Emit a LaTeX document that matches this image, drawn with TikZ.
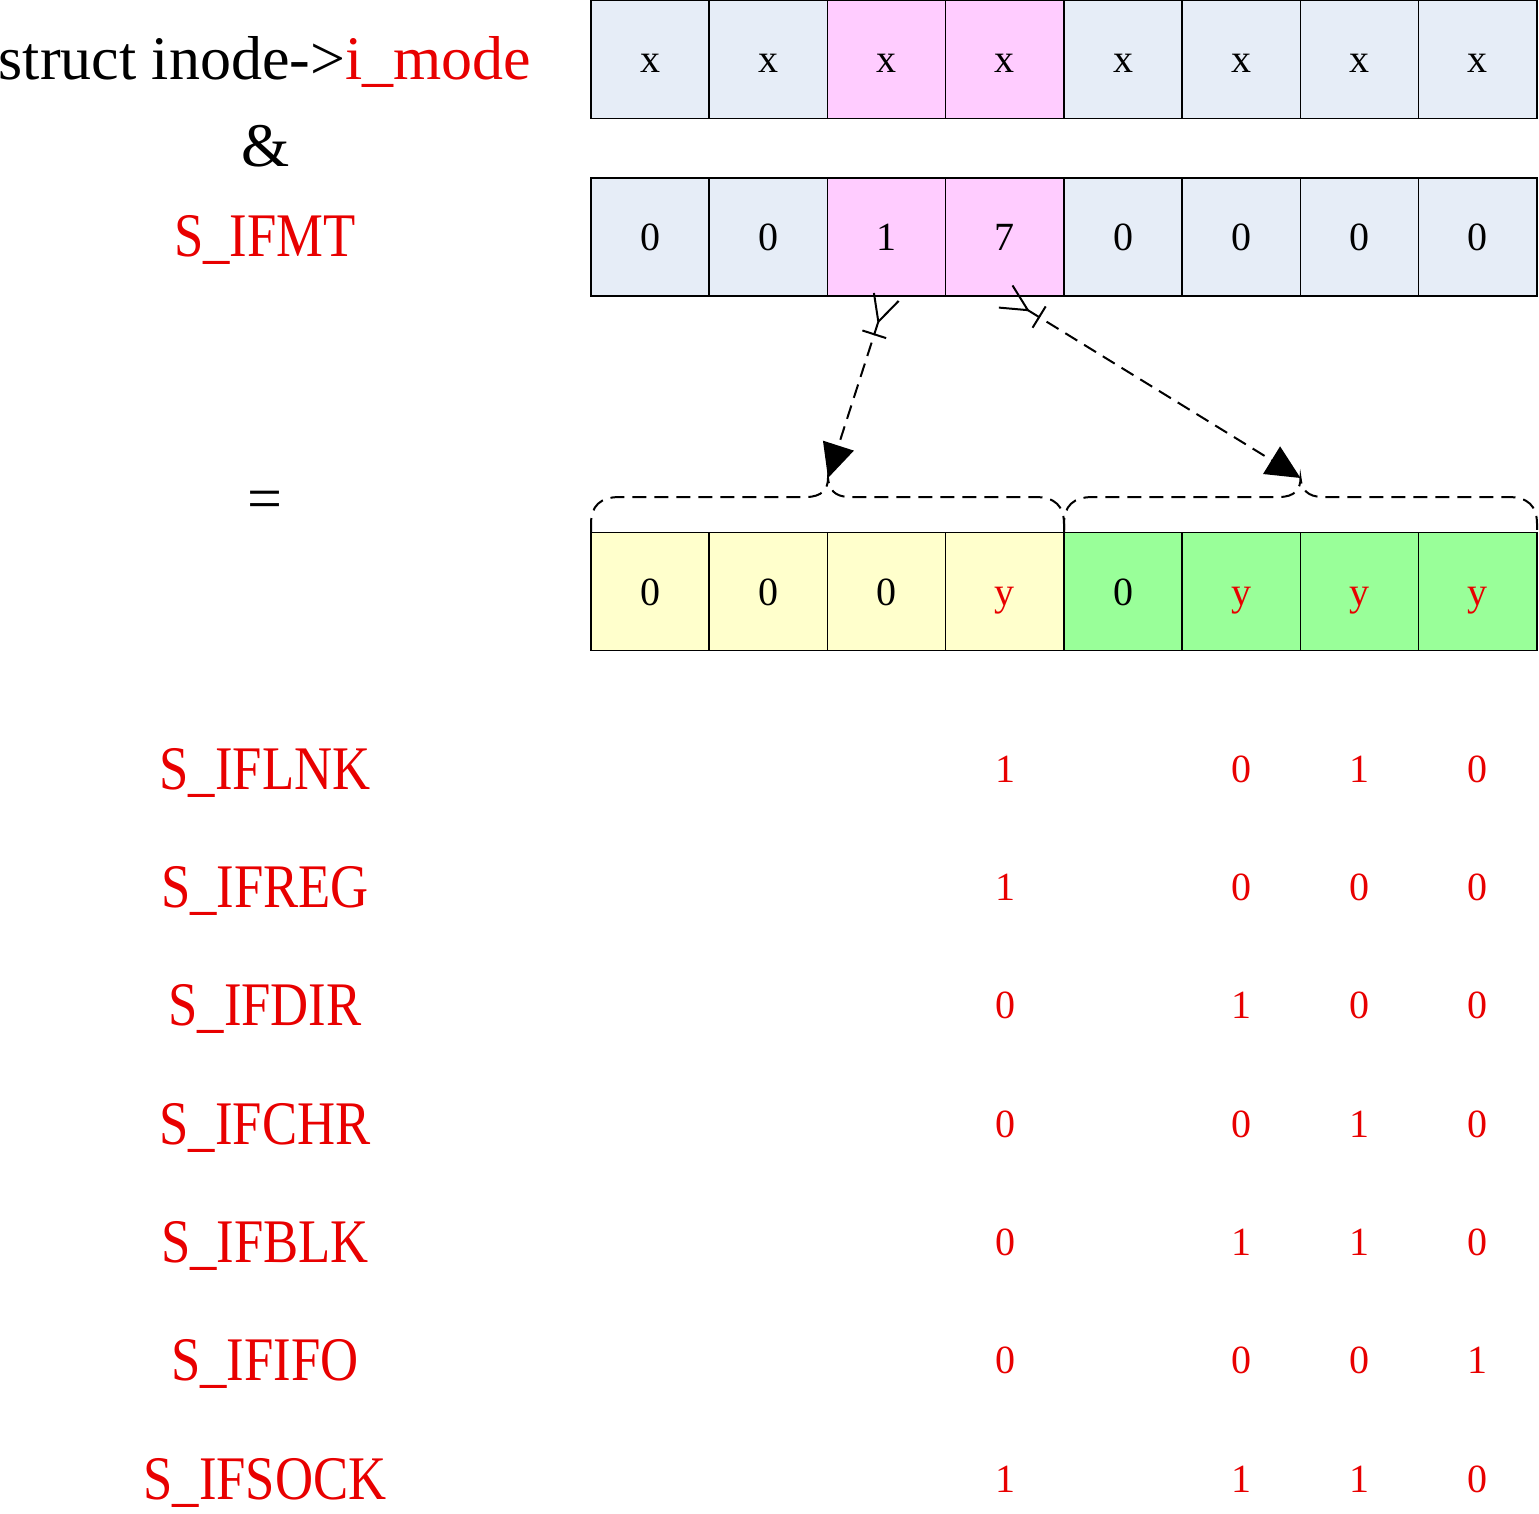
\documentclass[tikz,border=0pt]{standalone}
\usepackage{fontspec}
\setmainfont{Liberation Serif}
\newfontfamily\capsfont[FakeStretch=0.85]{Liberation Serif}
\usetikzlibrary{positioning,arrows.meta}

\begin{document}
\begin{tikzpicture}[x=1pt,y=-1pt,node distance=0pt]
            \definecolor{cellblue}{RGB}{230,237,247}
            \definecolor{cellpink}{RGB}{255,204,255}
            \definecolor{cellyellow}{RGB}{255,255,204}
            \definecolor{cellgreen}{RGB}{153,255,153}
            \definecolor{myred}{RGB}{232,0,0}
            \tikzstyle{cell} = [rectangle,
            minimum width=118.25pt,
            minimum height=118pt,
            inner sep=0pt, outer sep=0pt,
            text height=27pt, text depth=0pt,
            draw=black, line width=1.5pt,
            font=\fontsize{40}{48}\selectfont]
            \tikzstyle{rowlabel} = [inner sep=0pt, anchor=base, font=\fontsize{62}{74}\selectfont]
            \tikzstyle{typelabel} = [rowlabel, text=myred, font=\fontsize{62}{74}\capsfont]
            \tikzstyle{bit} = [inner sep=0pt, anchor=base, text=myred, font=\fontsize{40}{48}\selectfont]
            \tikzstyle{dashline} = [line width=2pt, dash pattern=on 14pt off 8pt]
            \tikzstyle{arrow} = [dashline,
            arrows={{Straight Barb[reversed,length=26pt,width=26pt]Bar[reversed,width=25pt,sep=10pt]}-Triangle[length=34pt,width=32pt]}]
            \useasboundingbox (0,0) rectangle (1539,1514);

            % left column
            \node (imode)[rowlabel] at (265,80) {struct inode->\textcolor{myred}{i\_mode}};
            \node (and)[rowlabel] at (266,167) {\&};
            \node (ifmt)[typelabel] at (265,257) {S\_IFMT};
            \node (equal)[rowlabel, anchor=center] at (265,505) {=};

            % i_mode
            \node (mode1)[cell, fill=cellblue] at (650.1,59.5) {x};
            \node (mode2)[cell, fill=cellblue, right=of mode1] {x};
            \node (mode3)[cell, fill=cellpink, right=of mode2] {x};
            \node (mode4)[cell, fill=cellpink, right=of mode3] {x};
            \node (mode5)[cell, fill=cellblue, right=of mode4] {x};
            \node (mode6)[cell, fill=cellblue, right=of mode5] {x};
            \node (mode7)[cell, fill=cellblue, right=of mode6] {x};
            \node (mode8)[cell, fill=cellblue, right=of mode7] {x};

            % S_IFMT
            \node (mask1)[cell, fill=cellblue] at (650.1,237) {0};
            \node (mask2)[cell, fill=cellblue, right=of mask1] {0};
            \node (mask3)[cell, fill=cellpink, right=of mask2] {1};
            \node (mask4)[cell, fill=cellpink, right=of mask3] {7};
            \node (mask5)[cell, fill=cellblue, right=of mask4] {0};
            \node (mask6)[cell, fill=cellblue, right=of mask5] {0};
            \node (mask7)[cell, fill=cellblue, right=of mask6] {0};
            \node (mask8)[cell, fill=cellblue, right=of mask7] {0};

            % result
            \node (res1)[cell, fill=cellyellow] at (650.1,591.5) {0};
            \node (res2)[cell, fill=cellyellow, right=of res1] {0};
            \node (res3)[cell, fill=cellyellow, right=of res2] {0};
            \node (res4)[cell, fill=cellyellow, right=of res3] {\textcolor{myred}{y}};
            \node (res5)[cell, fill=cellgreen, right=of res4] {0};
            \node (res6)[cell, fill=cellgreen, right=of res5] {\textcolor{myred}{y}};
            \node (res7)[cell, fill=cellgreen, right=of res6] {\textcolor{myred}{y}};
            \node (res8)[cell, fill=cellgreen, right=of res7] {\textcolor{myred}{y}};

            % braces
            \coordinate (tip1) at (828,478);
            \coordinate (tip2) at (1300.5,478);
            \draw [dashline] (591,532) -- (591,524) .. controls (591,506) and (600,497) .. (620,497) -- (806,497)
                .. controls (822,497) and (828,489) .. (tip1) .. controls (829,489) and (834,497) .. (850,497) -- (1035,497)
                .. controls (1055,497) and (1064,506) .. (1064,524) -- (1064,532);
            \draw [dashline] (1064,532) -- (1064,524) .. controls (1064,506) and (1073,497) .. (1093,497) -- (1279,497)
                .. controls (1295,497) and (1300.5,489) .. (tip2) .. controls (1301.5,489) and (1307,497) .. (1323,497) -- (1508,497)
                .. controls (1528,497) and (1537,506) .. (1537,524) -- (1537,532);

            \draw [arrow] (mask3.south) -- (tip1);
            \draw [arrow] (mask4.south) -- (tip2);

            % file types
            \node (lnk)[typelabel] at (265,789) {S\_IFLNK};
            \node (reg)[typelabel] at (265,907) {S\_IFREG};
            \node (dir)[typelabel] at (265,1025) {S\_IFDIR};
            \node (chr)[typelabel] at (265,1144) {S\_IFCHR};
            \node (blk)[typelabel] at (265,1262) {S\_IFBLK};
            \node (fifo)[typelabel] at (265,1380) {S\_IFIFO};
            \node (sock)[typelabel] at (265,1499) {S\_IFSOCK};

            \node (lnk4)[bit] at (1005,782) {1};
            \node (lnk6)[bit] at (1241.4,782) {0};
            \node (lnk7)[bit] at (1359.6,782) {1};
            \node (lnk8)[bit] at (1477.9,782) {0};
            \node (reg4)[bit] at (1005,900) {1};
            \node (reg6)[bit] at (1241.4,900) {0};
            \node (reg7)[bit] at (1359.6,900) {0};
            \node (reg8)[bit] at (1477.9,900) {0};
            \node (dir4)[bit] at (1005,1018) {0};
            \node (dir6)[bit] at (1241.4,1018) {1};
            \node (dir7)[bit] at (1359.6,1018) {0};
            \node (dir8)[bit] at (1477.9,1018) {0};
            \node (chr4)[bit] at (1005,1137) {0};
            \node (chr6)[bit] at (1241.4,1137) {0};
            \node (chr7)[bit] at (1359.6,1137) {1};
            \node (chr8)[bit] at (1477.9,1137) {0};
            \node (blk4)[bit] at (1005,1255) {0};
            \node (blk6)[bit] at (1241.4,1255) {1};
            \node (blk7)[bit] at (1359.6,1255) {1};
            \node (blk8)[bit] at (1477.9,1255) {0};
            \node (fifo4)[bit] at (1005,1373) {0};
            \node (fifo6)[bit] at (1241.4,1373) {0};
            \node (fifo7)[bit] at (1359.6,1373) {0};
            \node (fifo8)[bit] at (1477.9,1373) {1};
            \node (sock4)[bit] at (1005,1492) {1};
            \node (sock6)[bit] at (1241.4,1492) {1};
            \node (sock7)[bit] at (1359.6,1492) {1};
            \node (sock8)[bit] at (1477.9,1492) {0};
        \end{tikzpicture}
\end{document}
